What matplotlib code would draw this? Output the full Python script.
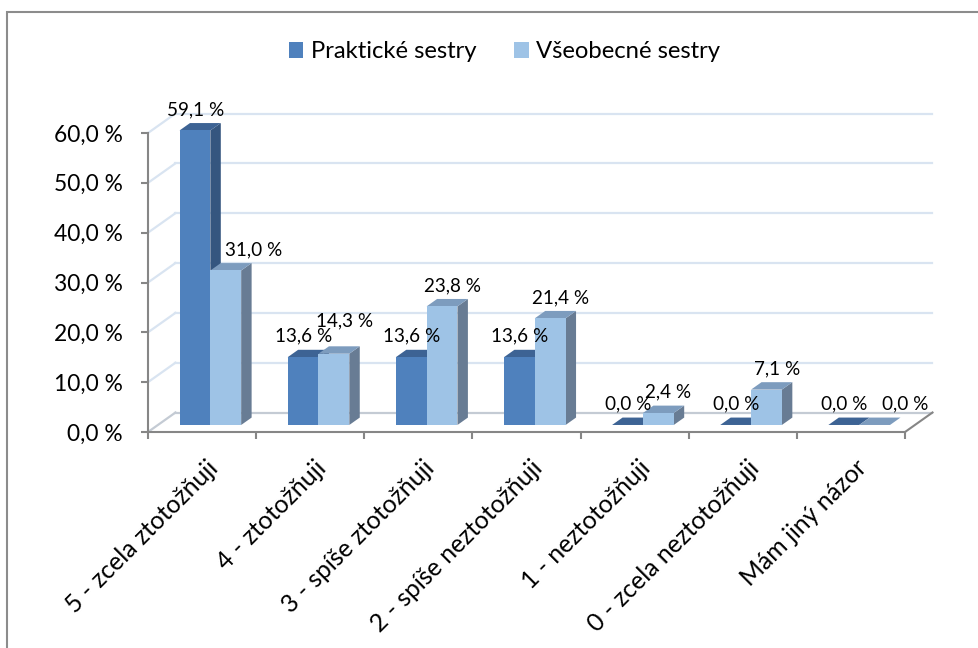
import matplotlib
matplotlib.use("Agg")
import matplotlib.pyplot as plt
from matplotlib.patches import Polygon, Rectangle, Patch

categories = ["5 - zcela ztotožňuji", "4 - ztotožňuji", "3 - spíše ztotožňuji",
              "2 - spíše neztotožňuji", "1 - neztotožňuji", "0 - zcela neztotožňuji",
              "Mám jiný názor"]
praktické = [59.1, 13.6, 13.6, 13.6, 0.0, 0.0, 0.0]
všeobecné = [31.0, 14.3, 23.8, 21.4, 2.4, 7.1, 0.0]
series_names = ["Praktické sestry", "Všeobecné sestry"]
yticks = [0, 10, 20, 30, 40, 50, 60]
ytick_labels = ["0,0 %", "10,0 %", "20,0 %", "30,0 %", "40,0 %", "50,0 %", "60,0 %"]

FONT = "Lato"
plt.rcParams['font.family'] = [FONT, 'DejaVu Sans']

W, H, DPI = 979, 648, 100
fig = plt.figure(figsize=(W / DPI, H / DPI), dpi=DPI)
renderer = fig.canvas.get_renderer()


def text_width(text, size):
    t = fig.text(0, 0, text, fontsize=size)
    w = t.get_window_extent(renderer=renderer).width
    t.remove()
    return w


def fit_size(text, target_px, base=14.0):
    return base * target_px / text_width(text, base)


tick_fs = fit_size("60,0 %", 69)
lab_fs = fit_size("59,1 %", 57)
leg_fs = fit_size("Praktické sestry", 167)
cat_fs = fit_size("5 - zcela ztotožňuji", 206)

# axes placement (front plane) in pixels
x0_px, x1_px = 148, 905
y0_px, y60_px = 432, 133
ax = fig.add_axes([x0_px / W, (H - y0_px) / H, (x1_px - x0_px) / W, (y0_px - y60_px) / H])
n = len(categories)
ax.set_xlim(0, n)
ax.set_ylim(0, 60)
px_per_cat = (x1_px - x0_px) / n
px_per_pct = (y0_px - y60_px) / 60.0

# depth (oblique) offset of the back wall
DX = 27.5 / px_per_cat
DY = 19.5 / px_per_pct
F1, F2 = 0.36, 0.74  # bar front / back depth fraction
BAR_OFF = 0.2
BAR_W = 0.285

grid_c = "#D9E4F1"
axis_c = "#868686"

# back wall gridlines + left wall
for v in yticks:
    col = grid_c if v > 0 else "#C4CBD4"
    ax.plot([DX, n + DX], [v + DY, v + DY], color=col, lw=1.6, zorder=1, clip_on=False)
    ax.plot([0, DX], [v, v + DY], color=col, lw=1.6, zorder=1, clip_on=False)
# floor right edge
ax.plot([n, n + DX], [0, DY], color=axis_c, lw=1.5, zorder=1, clip_on=False)

colors = [
    {"front": "#4F81BD", "top": "#3D6394", "side": "#35567F"},
    {"front": "#9EC3E6", "top": "#7D9CBE", "side": "#687C94"},
]


def bar(xl, v, c, z):
    xr = xl + BAR_W
    front = Rectangle((xl + F1 * DX, F1 * DY), BAR_W, v, facecolor=c["front"],
                      edgecolor="none", zorder=z, clip_on=False)
    top = Polygon([(xl + F1 * DX, v + F1 * DY), (xr + F1 * DX, v + F1 * DY),
                   (xr + F2 * DX, v + F2 * DY), (xl + F2 * DX, v + F2 * DY)],
                  closed=True, facecolor=c["top"], edgecolor="none", zorder=z, clip_on=False)
    side = Polygon([(xr + F1 * DX, F1 * DY), (xr + F2 * DX, F2 * DY),
                    (xr + F2 * DX, v + F2 * DY), (xr + F1 * DX, v + F1 * DY)],
                   closed=True, facecolor=c["side"], edgecolor="none", zorder=z, clip_on=False)
    for p in (side, top, front):
        ax.add_patch(p)


def fmt(v):
    return f"{v:.1f}".replace(".", ",") + " %"


for i in range(n):
    vals = [praktické[i], všeobecné[i]]
    for s in range(2):
        xl = i + BAR_OFF + s * BAR_W
        bar(xl, vals[s], colors[s], 3 + i * 2 + s)
    # data labels (Excel-like collision avoidance)
    dv_px = abs(vals[1] - vals[0]) * px_per_pct
    for s in range(2):
        xl = i + BAR_OFF + s * BAR_W
        xc = xl + BAR_W / 2 + 0.5 * (F1 + F2) * DX
        ytop = vals[s] + F2 * DY
        dx_px = -5 if s == 0 else 5
        dy_px = 5
        label = fmt(vals[s])
        if s == 1:
            lw_px = text_width(label, lab_fs)
            if (vals[0] - vals[1]) * px_per_pct > 20:
                # label would sit against the taller neighbour bar: move right of it
                dark_right = (i + BAR_OFF + BAR_W + F2 * DX)
                left_px = (xc - dark_right) * px_per_cat + dx_px - lw_px / 2
                if left_px < 4:
                    dx_px += 4 - left_px
            elif dv_px < 10:
                if vals[1] > vals[0]:
                    dy_px += 12
                else:
                    dx_px += 20
        ax.annotate(label, xy=(xc, ytop),
                    xytext=(dx_px * 72 / DPI, dy_px * 72 / DPI), textcoords="offset points",
                    ha="center", va="bottom", fontsize=lab_fs, color="black",
                    zorder=50, annotation_clip=False)

# axes styling
for sp in ("top", "right"):
    ax.spines[sp].set_visible(False)
for sp in ("left", "bottom"):
    ax.spines[sp].set_color(axis_c)
    ax.spines[sp].set_linewidth(1.5)
    ax.spines[sp].set_zorder(40)
ax.set_facecolor("none")
ax.set_yticks(yticks)
ax.set_yticklabels(ytick_labels, fontsize=tick_fs)
ax.tick_params(axis="y", direction="out", length=5, width=1.5, color=axis_c, pad=13)
ax.set_xticks(range(n + 1))
ax.set_xticklabels([])
ax.tick_params(axis="x", direction="out", length=5, width=1.5, color=axis_c)

# category labels
for i, cat in enumerate(categories):
    ax.annotate(cat, xy=(i + 0.5, 0), xytext=(4 * 72 / DPI, -24 * 72 / DPI),
                textcoords="offset points", rotation=45, rotation_mode="anchor",
                ha="right", va="top", fontsize=cat_fs, annotation_clip=False)

# legend
handles = [Patch(facecolor=colors[0]["front"], edgecolor="none"),
           Patch(facecolor=colors[1]["front"], edgecolor="none")]
fig.legend(handles, series_names, loc="center", bbox_to_anchor=(504.5 / W, 1 - 52 / H),
           ncol=2, frameon=False, fontsize=leg_fs, handlelength=0.62, handleheight=0.62,
           handletextpad=0.3, columnspacing=1.6)

# chart frame
fig.add_artist(Rectangle((7 / W, -0.1), 1.2, (H - 12) / H + 0.1, transform=fig.transFigure,
                         facecolor="none", edgecolor="#8C8C8C", lw=1.5, zorder=0))

fig.savefig("out.png", dpi=DPI)
